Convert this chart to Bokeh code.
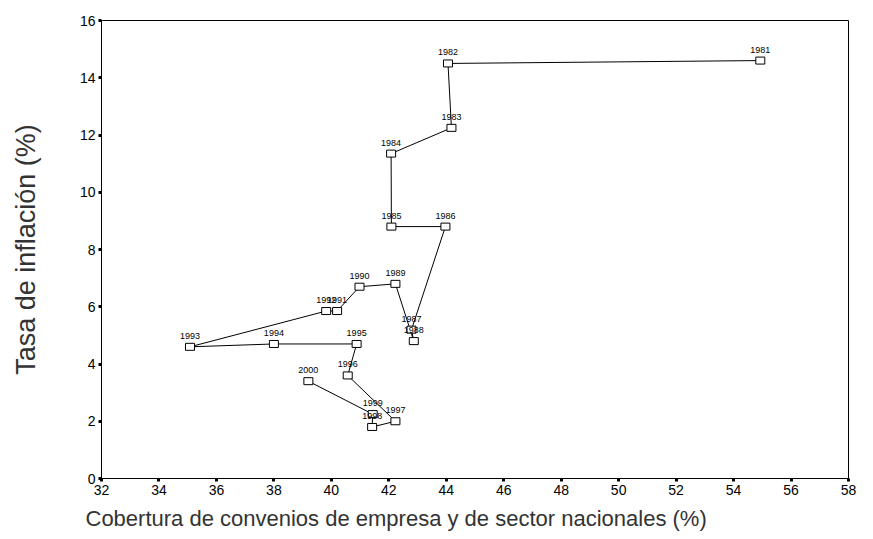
from bokeh.plotting import figure
from bokeh.models import Range1d, ColumnDataSource, Title, FixedTicker
from bokeh.core.properties import value
from bokeh.embed import file_html
from bokeh.resources import INLINE

years = ["1981", "1982", "1983", "1984", "1985", "1986", "1987", "1988", "1989", "1990",
         "1991", "1992", "1993", "1994", "1995", "1996", "1997", "1998", "1999", "2000"]
cobertura = [54.93, 44.06, 44.18, 42.08, 42.09, 43.97, 42.79, 42.87, 42.23, 40.98,
             40.20, 39.82, 35.08, 38.00, 40.88, 40.57, 42.23, 41.42, 41.44, 39.20]
inflacion = [14.6, 14.5, 12.25, 11.35, 8.8, 8.8, 5.2, 4.8, 6.8, 6.7,
             5.85, 5.85, 4.6, 4.7, 4.7, 3.6, 2.0, 1.8, 2.25, 3.4]

x_ticks = list(range(32, 59, 2))
y_ticks = list(range(0, 17, 2))

FONT = "Liberation Sans"

src = ColumnDataSource(dict(x=cobertura, y=inflacion, year=years))

p = figure(width=857, height=538, output_backend="svg", toolbar_location=None,
           x_range=Range1d(32, 58), y_range=Range1d(0, 16),
           min_border_left=101, min_border_right=9, min_border_top=20, min_border_bottom=60)
p.background_fill_color = "white"
p.border_fill_color = "white"
p.outline_line_color = "black"
p.outline_line_width = 1
p.xgrid.visible = False
p.ygrid.visible = False

p.line("x", "y", source=src, line_color="black", line_width=1)
p.rect("x", "y", width=9, height=7, width_units="screen", height_units="screen",
       source=src, fill_color="white", line_color="black", line_width=1)
p.text("x", "y", text="year", source=src, text_font=value(FONT), text_font_size="9px",
       text_align="center", text_baseline="bottom", y_offset=-8, text_color="black")

for ax in (p.xaxis[0], p.yaxis[0]):
    ax.axis_line_color = "black"
    ax.major_tick_line_color = "black"
    ax.major_tick_line_width = 3
    ax.major_tick_out = 3
    ax.major_tick_in = 0
    ax.minor_tick_out = 0
    ax.minor_tick_in = 0
    ax.major_label_text_font = FONT
    ax.major_label_text_font_size = "14px"
    ax.major_label_text_color = "black"
    ax.major_label_standoff = 3

p.xaxis.ticker = FixedTicker(ticks=x_ticks)
p.yaxis.ticker = FixedTicker(ticks=y_ticks)

p.yaxis.axis_label = "Tasa de inflación (%)"
p.yaxis.axis_label_text_font = FONT
p.yaxis.axis_label_text_font_size = "27px"
p.yaxis.axis_label_text_font_style = "normal"
p.yaxis.axis_label_text_color = "#333333"
p.yaxis.axis_label_standoff = 36

xt = Title(text="Cobertura de convenios de empresa y de sector nacionales (%)",
           align="left", offset=-16, text_font=FONT, text_font_size="22px",
           text_font_style="normal", text_color="#333333", standoff=13)
p.add_layout(xt, "below")

open("out.html", "w").write(file_html(p, INLINE))
